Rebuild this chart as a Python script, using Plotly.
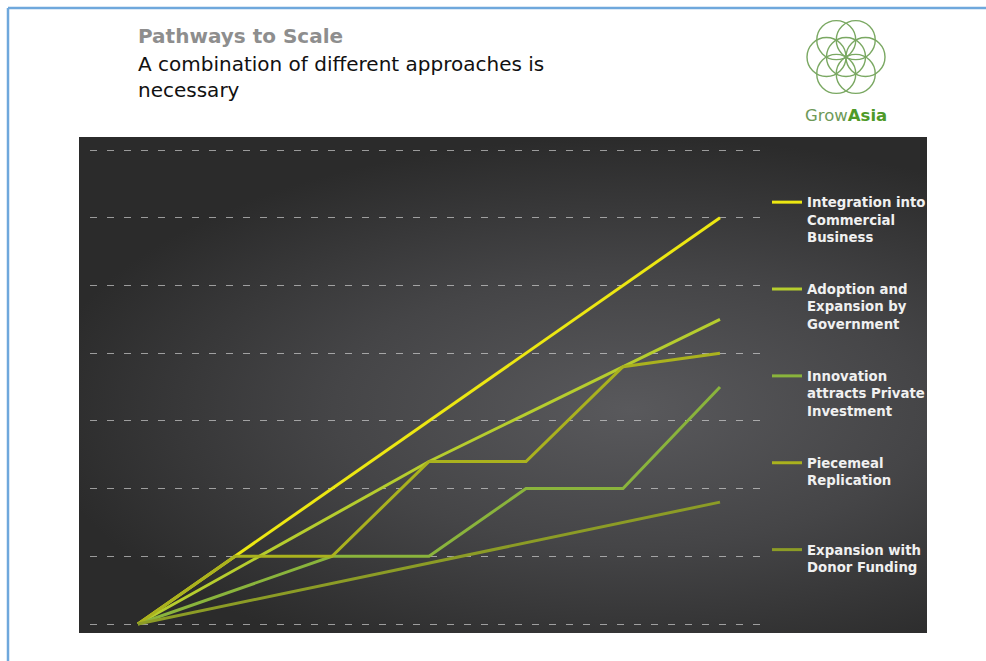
import math
import plotly.graph_objects as go

# ---------------- data ----------------
stages = [0, 1, 2, 3, 4, 5, 6]
series_names = [
    "Integration into<br>Commercial<br>Business",
    "Adoption and<br>Expansion by<br>Government",
    "Innovation<br>attracts Private<br>Investment",
    "Piecemeal<br>Replication<br> ",
    "Expansion with<br>Donor Funding<br> ",
]
integration = [0, 1, 2, 3, 4, 5, 6]
adoption = [0, 0.8, 1.6, 2.4, 3.1, 3.8, 4.5]
innovation = [0, 0.5, 1, 1, 2, 2, 3.5]
piecemeal = [0, 1, 1, 2.4, 2.4, 3.8, 4.0]
donor = [0, 0.3, 0.6, 0.9, 1.2, 1.5, 1.8]
series_values = [integration, adoption, innovation, piecemeal, donor]
series_colors = ["#ece712", "#b6cd2e", "#8ab43c", "#aab21e", "#8c9c26"]

W, H = 986, 661
FONT = "DejaVu Sans"


def px(x):
    return x / W


def py(y):
    return 1 - y / H


fig = go.Figure()

# background panel with radial gradient (subplot x/y, hidden axes)
fig.add_trace(go.Scatter(
    x=[-0.05, 1.35, 1.35, -0.05, -0.05],
    y=[-0.1, -0.1, 1.0, 1.0, -0.1],
    xaxis="x", yaxis="y",
    mode="lines", line=dict(width=0),
    fill="toself",
    fillgradient=dict(type="radial",
                      colorscale=[[0, "#59595c"], [0.5, "#454547"], [1, "#2b2b2b"]]),
    hoverinfo="skip", showlegend=False,
))

for name, vals, col in zip(series_names, series_values, series_colors):
    fig.add_trace(go.Scatter(
        x=stages, y=vals, name=name, xaxis="x2", yaxis="y2",
        mode="lines", line=dict(color=col, width=3),
        legendgroup=name,
    ))

shapes = []
# slide frame (blue)
shapes.append(dict(type="line", xref="paper", yref="paper",
                   x0=px(8), x1=px(8), y0=py(8), y1=py(H + 2),
                   line=dict(color="#6fa8dc", width=2.5)))
shapes.append(dict(type="line", xref="paper", yref="paper",
                   x0=px(8), x1=px(W + 2), y0=py(8), y1=py(8),
                   line=dict(color="#6fa8dc", width=2.5)))

# logo circles (seed of life)
cx, cy, r = 846, 57, 19.5
centers = [(cx, cy)] + [(cx + r * math.cos(math.radians(a)), cy + r * math.sin(math.radians(a)))
                        for a in range(0, 360, 60)]
for (ux, uy) in centers:
    shapes.append(dict(type="circle", xref="paper", yref="paper",
                       x0=px(ux - r), x1=px(ux + r), y0=py(uy + r), y1=py(uy - r),
                       line=dict(color="#7aa862", width=1.4)))

annotations = [
    dict(text="<b>Pathways to Scale</b>", x=px(136), y=py(36), xref="paper", yref="paper",
         xanchor="left", yanchor="middle", showarrow=False, align="left",
         font=dict(family=FONT, size=20, color="#8e8e8e")),
    dict(text="A combination of different approaches is<br>necessary", x=px(136), y=py(77),
         xref="paper", yref="paper", xanchor="left", yanchor="middle", showarrow=False,
         align="left", font=dict(family=FONT, size=20, color="#111111")),
    dict(text="<span style='color:#6e9a58'>Grow</span><b>Asia</b>", x=px(846), y=py(116),
         xref="paper", yref="paper", xanchor="center", yanchor="middle", showarrow=False,
         font=dict(family=FONT, size=16.5, color="#4e9a28")),
]

fig.update_layout(
    width=W, height=H,
    margin=dict(l=0, r=0, t=0, b=0),
    paper_bgcolor="white",
    plot_bgcolor="rgba(0,0,0,0)",
    shapes=shapes,
    annotations=annotations,
    xaxis=dict(domain=[px(79), px(927)], range=[0, 1], visible=False, fixedrange=True),
    yaxis=dict(domain=[py(633), py(137)], range=[0, 1], visible=False, fixedrange=True),
    xaxis2=dict(domain=[px(90), px(762)], range=[-0.495, 6.433], anchor="y2",
                showgrid=False, zeroline=False, showticklabels=False, ticks="",
                showline=False),
    yaxis2=dict(domain=[py(632), py(140)], range=[-0.118, 7.148], anchor="x2",
                showgrid=True, dtick=1, tick0=0, griddash="7px,10px",
                gridcolor="rgba(230,230,230,0.6)", gridwidth=1,
                zeroline=False, showticklabels=False, ticks="", showline=False),
    legend=dict(x=px(767), y=py(187), xanchor="left", yanchor="top",
                bgcolor="rgba(0,0,0,0)", valign="top", traceorder="grouped",
                tracegroupgap=32, itemwidth=30,
                font=dict(family=FONT, size=13.3, color="#f0f0f0", weight="bold")),
    showlegend=True,
)

fig.write_html("out.html")
